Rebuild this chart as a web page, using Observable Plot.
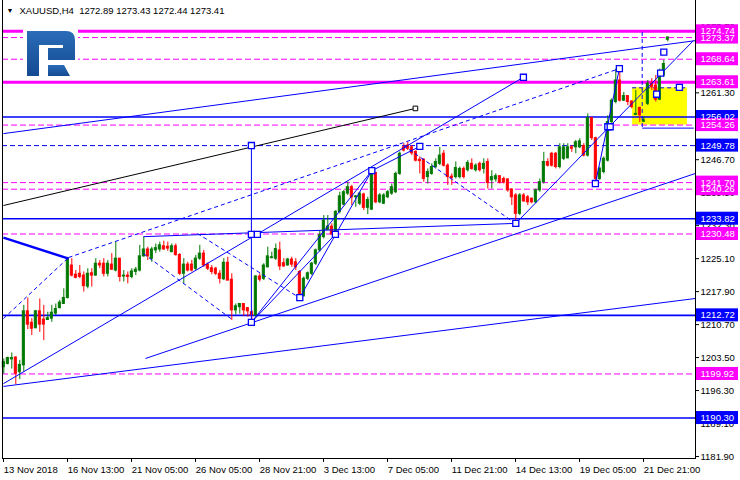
<!DOCTYPE html>
<html><head><meta charset="utf-8">
<script src="https://cdn.jsdelivr.net/npm/d3@7"></script>
<script src="https://cdn.jsdelivr.net/npm/@observablehq/plot@0.6"></script>
<style>
body{margin:0;background:#fff;}
#wrap{position:relative;width:740px;height:480px;overflow:hidden;background:#fff;}
#logo{position:absolute;left:0;top:0;pointer-events:none;}
</style></head><body><div id="wrap"></div>
<script>
// ---- data (XAUUSD H4), bar index 0..166 ----
const opens = [1201.4,1202.1,1203.1,1203.5,1200.3,1201.8,1213.6,1211.1,1209.9,1213.6,1211.8,1211.7,1212.0,1213.1,1214.3,1215.2,1216.5,1223.6,1221.6,1221.8,1221.4,1219.0,1221.9,1221.4,1224.0,1224.0,1221.8,1223.8,1222.5,1225.1,1221.2,1221.4,1221.1,1222.2,1222.5,1225.6,1227.1,1225.1,1226.9,1227.1,1227.8,1227.7,1226.5,1227.8,1225.9,1221.8,1223.8,1223.8,1222.9,1225.1,1226.2,1223.8,1223.0,1222.9,1221.8,1220.6,1224.2,1220.5,1213.8,1214.5,1215.2,1214.3,1213.4,1212.7,1221.2,1220.7,1223.2,1225.2,1225.1,1226.9,1224.1,1223.6,1224.9,1224.3,1222.2,1216.9,1220.7,1221.8,1224.0,1226.9,1229.8,1231.4,1232.1,1230.9,1235.3,1236.9,1239.3,1240.7,1238.5,1237.1,1239.1,1236.2,1235.8,1243.8,1237.4,1237.1,1238.5,1239.3,1239.6,1243.6,1249.4,1249.8,1249.4,1248.4,1246.7,1246.7,1242.9,1243.6,1245.1,1245.8,1248.0,1245.4,1243.0,1242.9,1242.9,1244.7,1244.4,1245.8,1244.4,1245.8,1244.7,1246.2,1242.2,1242.4,1243.1,1242.5,1242.4,1240.2,1238.9,1234.9,1238.9,1238.5,1238.2,1237.4,1240.0,1241.8,1246.2,1248.0,1248.0,1245.1,1246.9,1247.0,1249.4,1249.4,1249.4,1249.7,1247.6,1255.8,1251.4,1242.5,1244.0,1246.5,1254.9,1259.3,1264.0,1259.6,1260.6,1259.4,1256.5,1258.0,1255.0,1258.9,1263.3,1262.9,1259.8,1265.1,1272.89];
const highs = [1203.2,1203.6,1204.5,1203.7,1202.9,1214.9,1216.5,1212.0,1213.8,1216.3,1214.9,1213.4,1214.9,1215.2,1216.0,1218.5,1225.4,1225.1,1222.5,1223.6,1222.2,1222.9,1222.9,1225.1,1224.7,1225.1,1224.7,1226.2,1228.7,1225.1,1222.5,1222.2,1222.9,1223.2,1228.0,1229.8,1227.6,1227.6,1228.3,1228.7,1228.9,1228.7,1228.3,1228.3,1226.2,1225.1,1224.3,1224.7,1225.8,1228.0,1226.9,1224.2,1223.6,1223.2,1222.5,1225.1,1225.4,1221.8,1215.2,1215.2,1215.2,1214.3,1213.8,1221.4,1221.8,1224.0,1227.6,1226.5,1228.3,1228.7,1225.1,1225.2,1225.4,1225.1,1222.5,1221.1,1222.2,1224.3,1227.2,1231.2,1234.5,1234.5,1232.7,1235.6,1239.6,1240.0,1241.8,1241.1,1238.9,1239.6,1239.4,1238.5,1244.5,1244.0,1239.3,1239.3,1240.0,1241.4,1244.0,1248.4,1250.2,1250.5,1249.8,1248.7,1247.3,1246.9,1244.7,1245.8,1246.9,1249.4,1248.7,1245.8,1243.6,1246.2,1245.1,1245.1,1246.5,1246.9,1245.8,1246.2,1246.9,1246.9,1244.3,1243.6,1243.2,1242.9,1242.5,1240.3,1239.3,1239.3,1239.3,1238.9,1238.3,1240.3,1242.5,1248.3,1246.9,1248.3,1248.3,1250.2,1250.2,1250.2,1249.8,1250.9,1251.3,1250.2,1256.7,1256.0,1251.6,1245.1,1247.3,1256.3,1260.0,1266.5,1266.5,1261.4,1260.7,1259.6,1261.8,1258.2,1256.0,1264.0,1264.4,1265.1,1266.5,1268.4,1273.43];
const lows = [1199.9,1201.9,1201.0,1197.6,1198.7,1200.3,1209.6,1208.3,1209.8,1209.0,1207.2,1211.6,1211.2,1212.7,1214.1,1215.2,1216.3,1221.1,1220.7,1220.7,1217.8,1218.5,1218.9,1221.3,1222.9,1221.1,1221.1,1222.5,1222.2,1220.0,1220.0,1219.6,1220.7,1221.4,1222.2,1225.4,1224.7,1224.3,1226.2,1226.5,1226.9,1226.7,1226.5,1225.6,1221.4,1219.6,1222.2,1222.2,1222.5,1224.7,1223.2,1222.5,1221.6,1221.4,1219.6,1220.3,1220.3,1211.6,1212.8,1213.0,1212.5,1212.3,1211.1,1212.3,1220.0,1220.3,1223.1,1225.1,1224.7,1222.5,1223.2,1223.5,1223.2,1222.5,1216.7,1216.7,1220.3,1221.4,1223.6,1226.5,1229.4,1231.2,1230.2,1230.5,1234.9,1236.7,1238.9,1236.7,1236.3,1236.7,1235.6,1234.7,1235.6,1237.1,1237.1,1236.9,1238.2,1238.9,1239.3,1243.3,1248.4,1248.7,1247.6,1246.2,1243.6,1241.8,1241.4,1243.3,1244.7,1245.4,1245.1,1241.1,1241.1,1242.5,1242.5,1242.5,1244.0,1244.4,1244.0,1244.0,1243.6,1240.3,1240.3,1241.8,1241.4,1241.4,1239.6,1236.7,1233.1,1234.5,1237.4,1236.7,1237.1,1237.1,1239.6,1241.4,1245.1,1245.1,1244.7,1244.7,1246.5,1246.9,1248.3,1248.0,1249.1,1247.3,1247.3,1250.9,1241.4,1242.2,1243.6,1246.2,1254.2,1258.9,1259.3,1259.4,1258.5,1257.8,1256.4,1254.8,1254.8,1258.5,1261.8,1259.3,1259.6,1264.7,1272.44];
const closes = [1202.5,1203.4,1203.4,1200.0,1201.9,1213.6,1210.7,1209.8,1213.6,1210.7,1210.7,1212.1,1213.3,1214.1,1215.5,1216.5,1225.1,1221.4,1220.9,1221.1,1219.1,1221.8,1221.4,1224.0,1223.6,1221.8,1224.0,1222.7,1225.1,1221.1,1221.4,1221.1,1222.3,1222.7,1225.6,1227.1,1225.6,1227.1,1227.4,1228.0,1227.1,1227.3,1227.8,1225.9,1221.8,1223.8,1222.5,1222.5,1225.1,1226.2,1223.6,1222.9,1222.2,1221.8,1220.7,1224.2,1220.3,1213.8,1214.7,1215.2,1213.8,1213.6,1212.7,1221.2,1220.5,1223.6,1225.6,1225.4,1227.2,1223.4,1223.4,1224.9,1223.8,1223.2,1216.9,1220.7,1221.9,1224.0,1226.9,1230.2,1233.4,1232.1,1230.4,1235.3,1238.7,1239.6,1240.7,1238.5,1238.7,1239.3,1236.2,1237.9,1244.4,1237.4,1238.9,1238.9,1239.6,1240.7,1243.6,1248.0,1248.7,1249.1,1248.1,1246.5,1246.4,1242.5,1244.0,1245.1,1246.2,1247.6,1245.4,1242.9,1242.7,1244.9,1244.7,1242.9,1246.0,1244.7,1245.4,1244.4,1245.8,1241.6,1242.9,1243.1,1241.7,1241.7,1240.0,1238.5,1234.9,1238.9,1237.6,1237.4,1237.4,1240.0,1241.8,1246.2,1245.4,1245.4,1245.1,1249.4,1249.4,1249.4,1249.1,1250.5,1250.7,1247.6,1255.8,1251.4,1242.5,1244.7,1246.9,1254.9,1259.6,1264.0,1259.6,1260.6,1259.3,1258.2,1256.7,1256.4,1255.3,1263.3,1262.5,1259.8,1265.1,1267.6,1273.41];

const xTickBars = [0,16,32,48,64,80,96,112,128,144,160];
const xTickLabels = ["13 Nov 2018","16 Nov 13:00","21 Nov 05:00","26 Nov 05:00","28 Nov 21:00","3 Dec 13:00","7 Dec 05:00","11 Dec 21:00","14 Dec 13:00","19 Dec 05:00","21 Dec 21:00"];
const yTickValues = [1181.90,1189.10,1196.30,1203.50,1210.70,1217.90,1225.10,1232.30,1239.50,1246.70,1261.30,1275.70];

// horizontal levels
const magentaSolidLevels = [1274.74,1263.61];
const magentaDashedLevels = [1273.37,1268.64,1254.26,1241.70,1240.26,1230.48,1199.92];
const blueSolidLevels = [1256.02,1233.82,1212.72,1190.30];
const blueDashedLevels = [1249.78];
// price tags on the right axis (drawn in this order)
const tagValues = [1190.30,1199.92,1212.72,1230.48,1233.82,1240.26,1241.70,1249.78,1256.02,1254.26,1263.61,1268.64,1273.37,1274.74];
const tagColors = ["#0000ff","#ff00ff","#0000ff","#ff00ff","#0000ff","#ff00ff","#ff00ff","#0000ff","#0000ff","#ff00ff","#ff00ff","#ff00ff","#ff00ff","#ff00ff"];

// trend lines [bar1, price1, bar2, price2]
const solidLines = [
  [-0.1,1197.8,129.9,1264.7],
  [-0.1,1197.2,172.9,1216.4],
  [35.4,1203.3,172.9,1243.7],
  [-0.1,1252.4,172.9,1272.7],
  [61.9,1249.8,61.9,1211.1],
  [34.9,1229.9,127.9,1232.8],
  [61.9,1211.2,92.0,1244.3],
  [61.9,1211.2,82.9,1230.4],
  [74.0,1216.6,92.0,1244.3],
  [92.0,1244.3,104.0,1249.6],
  [128.0,1232.8,151.4,1253.9],
  [147.9,1241.5,153.9,1266.6],
  [151.4,1253.9,172.4,1272.7],
  [159.6,1253.6,172.5,1253.6]
];
const blackLines = [[-0.1,1236.7,102.9,1257.9]];
const thickLines = [[-0.1,1229.7,16.2,1225.1]];
const dashedLines = [
  [-0.1,1212.0,16.2,1225.35],
  [16.2,1225.35,153.9,1266.6],
  [34.9,1226.2,57.4,1211.6],
  [48.4,1230.6,74.2,1216.4],
  [99.9,1249.8,127.9,1232.8],
  [159.6,1274.6,159.6,1253.6]
];
const anchorsBlue = [[129.9,1264.7],[61.9,1249.8],[61.9,1230.4],[63.4,1230.4],[61.9,1211.2],[74.0,1216.6],[82.9,1230.4],[92.0,1244.3],[104.0,1249.6],[128.0,1232.8],[147.9,1241.5],[151.0,1253.9],[151.6,1253.9],[153.9,1266.6],[163.2,1261.0],[164.2,1265.6],[165.0,1270.2],[168.9,1262.5]];
const anchorsBlack = [[102.9,1257.9]];
// highlight box
const boxBars = [157.2,170.9];
const boxPrices = [1254.26,1262.4];

const GREEN = "#007800", RED = "#ff0000", BLUE = "#0000ff", MAG = "#ff00ff";
const bars = d3.range(opens.length).map(i => ({i, o: opens[i], h: highs[i], l: lows[i], c: closes[i]}));
const colorOf = d => d.c >= d.o ? GREEN : RED;
const seg = a => ({x1: a[0], y1: a[1], x2: a[2], y2: a[3]});

const X0 = -0.325, X1 = 172.925;          // bar-index domain
const Y0 = 1181.463, Y1 = 1281.464;       // price domain
const pxY = (Y1 - Y0) / 458;               // price per pixel
const tagHalf = 6.5 * pxY;

const fontFam = "'Liberation Sans', Arial, sans-serif";

const chart = Plot.plot({
  width: 740, height: 480,
  marginLeft: 2, marginRight: 45, marginTop: 0, marginBottom: 22,
  x: {domain: [X0, X1], axis: null},
  y: {domain: [Y0, Y1], axis: null},
  style: {fontFamily: fontFam, fontSize: "9.5px", background: "white", color: "black"},
  marks: [
    // highlight box
    Plot.rect([0], {x1: boxBars[0], x2: boxBars[1], y1: boxPrices[0], y2: boxPrices[1], fill: "#ffff00"}),
    Plot.ruleY([boxPrices[1]], {x1: boxBars[0], x2: boxBars[1], stroke: BLUE, strokeDasharray: "4,3"}),
    // horizontal levels
    Plot.ruleY(blueDashedLevels, {stroke: BLUE, strokeWidth: 1, strokeDasharray: "5,3"}),
    Plot.ruleY(magentaDashedLevels, {stroke: MAG, strokeWidth: 1, strokeDasharray: "6,3"}),
    Plot.ruleY(blueSolidLevels, {stroke: BLUE, strokeWidth: 1.6}),
    Plot.ruleY(magentaSolidLevels, {stroke: MAG, strokeWidth: 3}),
    // candles
    Plot.ruleX(bars, {x: "i", y1: "l", y2: "h", stroke: colorOf, strokeWidth: 1}),
    Plot.rect(bars, {x1: d => d.i - 0.25, x2: d => d.i + 0.25, y1: "o", y2: "c", fill: colorOf, stroke: colorOf, strokeWidth: 1}),
    // trend lines
    Plot.link(dashedLines.map(seg), {x1: "x1", y1: "y1", x2: "x2", y2: "y2", stroke: BLUE, strokeWidth: 1, strokeDasharray: "4,3", clip: true}),
    Plot.link(solidLines.map(seg), {x1: "x1", y1: "y1", x2: "x2", y2: "y2", stroke: BLUE, strokeWidth: 1, clip: true}),
    Plot.link(thickLines.map(seg), {x1: "x1", y1: "y1", x2: "x2", y2: "y2", stroke: BLUE, strokeWidth: 2.5, clip: true}),
    Plot.link(blackLines.map(seg), {x1: "x1", y1: "y1", x2: "x2", y2: "y2", stroke: "#000", strokeWidth: 1, clip: true}),
    Plot.dot(anchorsBlue, {x: d => d[0], y: d => d[1], symbol: "square", r: 3.4, fill: "white", stroke: BLUE, strokeWidth: 1.3}),
    Plot.dot(anchorsBlack, {x: d => d[0], y: d => d[1], symbol: "square", r: 2.6, fill: "white", stroke: "#000", strokeWidth: 1}),
    // frame
    Plot.ruleX([X0], {stroke: "#000"}),
    Plot.ruleX([X1], {y1: Y0 - 1 * pxY, y2: Y1, stroke: "#000"}),
    Plot.ruleY([Y0], {x1: X0, x2: X1, stroke: "#000"}),
    // x axis ticks and labels
    Plot.ruleX(xTickBars, {x: d => d - 0.07, y1: Y0, y2: Y0 - 4 * pxY, stroke: "#000"}),
    Plot.text(xTickBars, {x: d => d, y: Y0, dy: 11, dx: 0, text: (d, i) => xTickLabels[i], textAnchor: "start", fill: "#000", fontSize: 9.5}),
    // y axis ticks and labels
    Plot.ruleY(yTickValues, {x1: X1, x2: X1 + 1, stroke: "#000"}),
    Plot.text(yTickValues, {x: X1, y: d => d, dx: 5, text: d => d.toFixed(2), textAnchor: "start", fill: "#000", fontSize: 9.5}),
    // price tags
    Plot.rect(tagValues, {x1: X1 + 0.25, x2: X1 + 10.75, y1: d => d - tagHalf, y2: d => d + tagHalf, fill: (d, i) => tagColors[i]}),
    Plot.text(tagValues, {x: X1, y: d => d, dx: 5, text: d => d.toFixed(2), textAnchor: "start", fill: "white", fontSize: 9.5}),
    // title
    Plot.text(["XAUUSD,H4  1272.89 1273.43 1272.44 1273.41"], {frameAnchor: "top-left", dx: 17, dy: 10.5, textAnchor: "start", fill: "#000", fontSize: 9.5, lineAnchor: "middle"}),
    Plot.text(["\u25BC"], {frameAnchor: "top-left", dx: 4, dy: 10.5, textAnchor: "start", fill: "#000", fontSize: 7, lineAnchor: "middle"})
  ]
});
document.getElementById("wrap").appendChild(chart);

// broker logo overlay
const ns = "http://www.w3.org/2000/svg";
const logo = document.createElementNS(ns, "svg");
logo.setAttribute("id", "logo");
logo.setAttribute("width", 740); logo.setAttribute("height", 480);
logo.innerHTML = `<defs><linearGradient id="lg" x1="0" y1="0" x2="0" y2="1"><stop offset="0" stop-color="#2a6cb8"/><stop offset="1" stop-color="#144a92"/></linearGradient></defs>
<rect x="23" y="26" width="55" height="53" fill="#fff"/>
<path d="M27,31 H66 Q75,31 75,40 V60 H48 V48 H63 V45 H39 V76 H27 Z" fill="url(#lg)"/>
<path d="M48,65 H64 L70,76 H48 Z" fill="url(#lg)"/>`;
document.getElementById("wrap").appendChild(logo);
</script>
</body></html>
